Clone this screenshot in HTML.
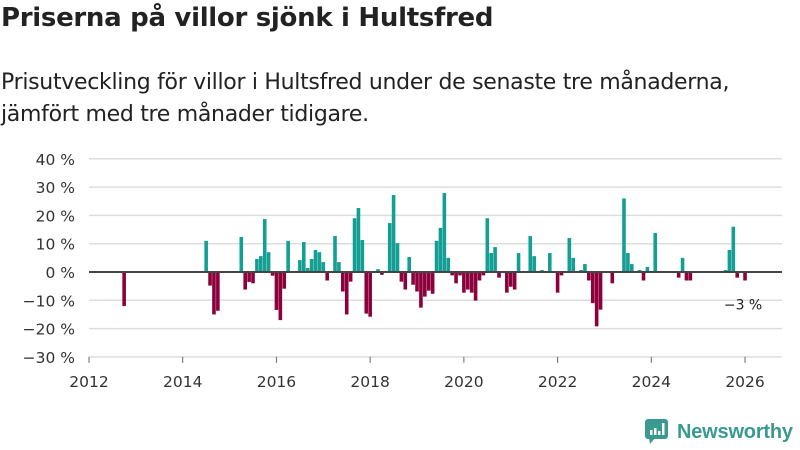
<!DOCTYPE html>
<html><head><meta charset="utf-8">
<style>
body{margin:0;width:800px;height:450px;background:#fff;font-family:"DejaVu Sans","Liberation Sans",sans-serif;overflow:hidden;position:relative;color:#222}
h1{position:absolute;left:1px;top:3px;margin:0;font-size:26px;font-weight:bold;letter-spacing:-0.3px;white-space:nowrap}
.sub{position:absolute;left:1px;top:67px;margin:0;font-size:22px;line-height:32px;color:#222;white-space:nowrap;letter-spacing:-0.3px}
svg{position:absolute;left:0;top:0}
</style></head><body>
<h1>Priserna på villor sjönk i Hultsfred</h1>
<p class="sub">Prisutveckling för villor i Hultsfred under de senaste tre månaderna,<br>jämfört med tre månader tidigare.</p>
<svg id="chart" width="800" height="450"></svg>
<script>
const months=["2012-10","2014-07","2014-08","2014-09","2014-10","2015-04","2015-05","2015-06","2015-07","2015-08","2015-09","2015-10","2015-11","2015-12","2016-01","2016-02","2016-03","2016-04","2016-07","2016-08","2016-09","2016-10","2016-11","2016-12","2017-01","2017-02","2017-04","2017-05","2017-06","2017-07","2017-08","2017-09","2017-10","2017-11","2017-12","2018-01","2018-03","2018-04","2018-06","2018-07","2018-08","2018-09","2018-10","2018-11","2018-12","2019-01","2019-02","2019-03","2019-04","2019-05","2019-06","2019-07","2019-08","2019-09","2019-10","2019-11","2019-12","2020-01","2020-02","2020-03","2020-04","2020-05","2020-06","2020-07","2020-08","2020-09","2020-10","2020-12","2021-01","2021-02","2021-03","2021-06","2021-07","2021-09","2021-11","2022-01","2022-02","2022-04","2022-05","2022-07","2022-08","2022-09","2022-10","2022-11","2022-12","2023-03","2023-06","2023-07","2023-08","2023-10","2023-11","2023-12","2024-02","2024-08","2024-09","2024-10","2024-11","2025-08","2025-09","2025-10","2025-11","2026-01"];
const values=[-12,11,-4.8,-15,-13.7,12.4,-6.2,-3.5,-4,4.6,5.6,18.7,7,-1.3,-13.4,-17,-5.9,11,4.2,10.6,1.4,4.6,7.8,7,3.5,-3,12.7,3.5,-6.9,-15,-3.4,19,22.6,11.3,-14.7,-15.8,1,-1,17.3,27.2,10.2,-3.4,-6.2,5.3,-4.5,-6.9,-12.6,-8.7,-6.6,-7.7,11,15.6,27.9,5,-1.2,-4,-1.2,-7.3,-6.2,-7.3,-10.1,-3,-1.2,19,6.7,8.8,-2,-7.3,-5.2,-6.2,6.7,12.7,5.6,0.7,6.7,-7.3,-1.2,12,5,0.7,2.8,-3,-11,-19.2,-13.3,-4,26,6.7,2.8,0.7,-3,1.8,13.8,-2,5,-3,-3,0.7,7.8,16,-2,-3];
const yTicks=[40,30,20,10,0,-10,-20,-30];
const xTicks=[2012,2014,2016,2018,2020,2022,2024,2026];
const lastLabel="−3 %";

const NS="http://www.w3.org/2000/svg";
const svg=document.getElementById('chart');
const X0=89,PXM=3.905,Y0=272,PXV=2.83;
const FF='DejaVu Sans, Liberation Sans, sans-serif';
function xm(str){const [y,m]=str.split('-').map(Number);return X0+((y-2012)*12+(m-1))*PXM;}
function xy(year){return X0+(year-2012)*12*PXM;}
function yv(v){return Y0-v*PXV;}
function mk(t,a){const e=document.createElementNS(NS,t);for(const k in a)e.setAttribute(k,a[k]);svg.appendChild(e);return e;}

yTicks.forEach(t=>{
  if(t!==0&&t!==-30){
    const g=mk('line',{x1:89,x2:782,y1:yv(t),y2:yv(t),stroke:'#dddddd','stroke-width':1.5});
    
    
  }
  const l=mk('text',{x:75,y:yv(t)+6,'text-anchor':'end','font-size':15.5,fill:'#333','font-family':FF});
  l.textContent=(t<0?'−'+(-t):t)+' %';
  
  
});
const ax=mk('line',{x1:89,x2:782,y1:yv(-30),y2:yv(-30),stroke:'#dddddd','stroke-width':1.5});



months.forEach((m,i)=>{
  const v=values[i];const cx=xm(m);
  const r=mk('rect',{x:cx-1.8,width:3.6,y:v>=0?yv(v):Y0,height:Math.abs(v*PXV),fill:v>=0?'#139f94':'#8c003b'});
  
  
});
const z=mk('line',{x1:89,x2:782,y1:Y0,y2:Y0,stroke:'#444','stroke-width':2});



xTicks.forEach(yr=>{
  const tk=mk('line',{x1:xy(yr),x2:xy(yr),y1:yv(-30),y2:yv(-30)+6,stroke:'#666','stroke-width':1});
  
  
  const l=mk('text',{x:xy(yr),y:387,'text-anchor':'middle','font-size':15.5,fill:'#333','font-family':FF});
  l.textContent=yr;
  
  
});
const lastM=months[months.length-1];
const ll=mk('text',{x:xm(lastM)-2,y:yv(-3)+29,'text-anchor':'middle','font-size':14,fill:'#222','font-family':FF});
ll.textContent=lastLabel;


</script>
<div style="position:absolute;left:645px;top:420px;height:24px;display:flex;align-items:center">
  <svg width="24" height="26" viewBox="0 0 24 26" style="position:static">
    <rect x="0" y="0" width="23" height="20" rx="3" fill="#3a9a8f"/>
    <polygon points="4,19 10,19 5,25" fill="#3a9a8f"/>
    <rect x="5" y="11" width="2.5" height="5" fill="#fff"/>
    <rect x="9" y="9" width="2.5" height="7" fill="#fff"/>
    <rect x="13" y="12" width="2.5" height="4" fill="#fff"/>
    <rect x="17" y="4" width="2.5" height="12" fill="#fff"/>
  </svg>
  <span style="font-size:20px;color:#3a9a8f;margin-left:8px;font-family:'Liberation Sans',sans-serif;font-weight:bold;letter-spacing:-0.2px">Newsworthy</span>
</div>
</body></html>
